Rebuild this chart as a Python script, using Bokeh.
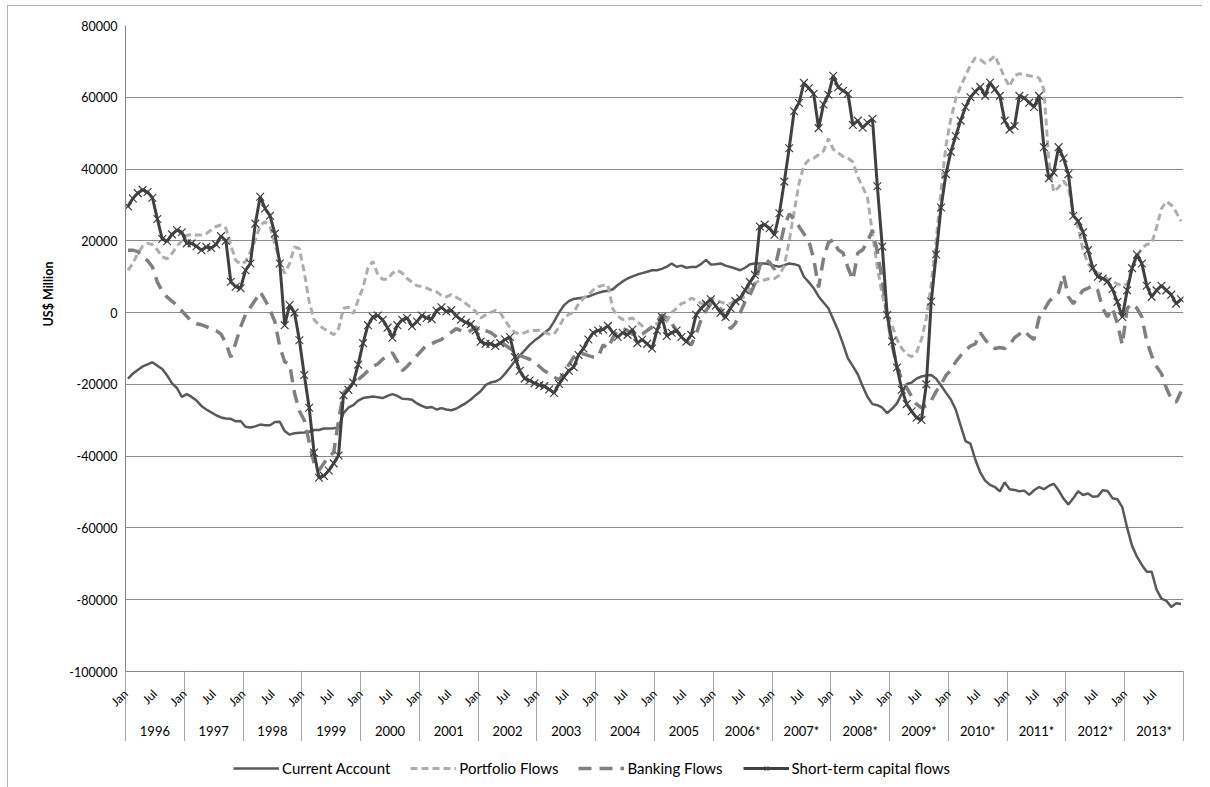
import math
from bokeh.plotting import figure
from bokeh.layouts import column
from bokeh.models import (FixedTicker, NumeralTickFormatter, LinearAxis, Legend,
                          LegendItem, Range1d, ColumnDataSource, Title)
from bokeh.embed import file_html
from bokeh.resources import INLINE

# ---------------- data (US$ million, monthly Jan 1996 - Dec 2013) ----------------
year_labels = ["1996", "1997", "1998", "1999", "2000", "2001", "2002", "2003", "2004",
               "2005", "2006*", "2007*", "2008*", "2009*", "2010*", "2011*", "2012*", "2013*"]
month_labels = ["Jan", "Jul"]
series_names = ["Current Account", "Portfolio Flows", "Banking Flows", "Short-term capital flows"]
y_title = "US$ Million"

current_account = [
    -18400, -17000, -16000, -15000, -14400, -13800, -14800, -15700, -17500, -19700, -21000, -23500,
    -22700, -23500, -24500, -26000, -27000, -27800, -28600, -29200, -29500, -29600, -30300, -30200,
    -31800, -32000, -31700, -31200, -31400, -31400, -30500, -30400, -33000, -34000, -33600, -33500,
    -33400, -33200, -32700, -32700, -32300, -32300, -32200, -32000, -28000, -26500, -25800, -24500,
    -23800, -23600, -23400, -23600, -23800, -23200, -22700, -23200, -24000, -24100, -24300, -25300,
    -26000, -26500, -26300, -27000, -26600, -27000, -27200, -26800, -26000, -25200, -24200, -23000,
    -21900, -20200, -19500, -19200, -18500, -17000, -15300, -13500, -12000, -10500, -9000, -7800,
    -6800, -5600, -4600, -2500, 0, 2000, 3200, 3800, 4000, 4200, 4500, 5000,
    5500, 5900, 6100, 6500, 7700, 8700, 9500, 10100, 10600, 11000, 11400, 11800,
    11800, 12200, 12800, 13700, 12800, 13100, 12500, 12700, 12700, 13500, 14700, 13400,
    13500, 13700, 13100, 12700, 12300, 11800, 12500, 13500, 13700, 13700, 13700, 13500,
    13100, 12800, 13200, 13700, 13500, 13100, 10000, 8500, 6800, 4500, 2800, 1200,
    -1900, -5000, -8800, -12800, -14900, -17200, -20500, -23500, -25500, -25800, -26500, -28000,
    -26800, -25300, -22500, -19900, -19500, -18400, -17800, -17500, -17400, -18400, -20300, -22300,
    -24200, -27000, -31500, -35800, -36500, -41000, -44500, -46800, -48000, -48600, -49800, -47300,
    -49200, -49400, -49800, -49600, -50800, -49500, -48600, -49200, -48300, -47700, -49500, -51800,
    -53500, -51700, -49800, -50800, -50400, -51300, -51200, -49500, -49700, -51700, -52000, -54200,
    -60000, -65000, -68000, -70300, -72200, -72200, -77200, -79700, -80300, -82000, -81000, -81200,
]

portfolio_flows = [
    11800, 13700, 16500, 18500, 19300, 19000, 17500, 15500, 15000, 16500, 18500, 20000,
    21500, 21800, 21600, 21600, 22000, 23000, 24000, 24400, 23500, 18800, 14600, 13500,
    14200, 17000, 20200, 24400, 25300, 24000, 19000, 14600, 10900, 13700, 18300, 17800,
    11200, 3000, -1900, -3500, -4500, -5200, -6200, -4500, 1200, 1500, -300, 3500,
    7000, 12500, 14300, 10600, 9300, 9300, 11000, 11800, 11000, 9500, 8500, 7500,
    7300, 6800, 6200, 5800, 4800, 4400, 5000, 4300, 3500, 2500, 1500, 300,
    -1500, -700, 0, 600, 0, -2200, -4200, -5500, -6000, -5600, -5000, -5000,
    -5000, -5500, -6000, -6000, -4000, -1500, -500, 0, 2500, 4000, 5000, 6300,
    7200, 7600, 7700, 1000, -1000, -1900, -1800, -1500, -2500, -3700, -4800, -4000,
    -3000, -2500, -2500, 0, 1200, 2500, 3000, 4000, 3500, 2500, 3000, 4000,
    3500, 3000, 2500, 2500, 3500, 4000, 4400, 7000, 8200, 9000, 9100, 9500,
    9500, 10400, 13000, 20000, 28000, 36000, 41000, 42500, 43000, 44000, 45000, 48500,
    45500, 44500, 43500, 43000, 42000, 37800, 35000, 32000, 22000, 12500, 5000, -1000,
    -3500, -7500, -10000, -11600, -12300, -11000, -7500, -1500, 8000, 20000, 34000, 46500,
    54000, 59500, 63000, 66000, 69000, 71000, 70500, 69500, 70300, 71600, 68500, 65400,
    63000, 66000, 66600, 66300, 66000, 65700, 65400, 62200, 42300, 33600, 34900, 36700,
    34900, 27400, 23700, 17400, 13700, 11800, 11000, 10600, 9300, 8700, 8000, 7500,
    8000, 12400, 15600, 18000, 19000, 19300, 23700, 29000, 31000, 30000, 28000, 25500,
]

banking_flows = [
    17400, 17400, 17000, 15600, 14500, 12700, 8500, 6000, 4300, 3200, 2000, 500,
    -1000, -2500, -3100, -3400, -3900, -4500, -5000, -6000, -8500, -12400, -8500, -4000,
    -500, 1500, 3500, 5800, 3500, 700, -2500, -9500, -13700, -14300, -22400, -27400,
    -30000, -36000, -42000, -44000, -42000, -40000, -39000, -30000, -22400, -21000, -19700, -18700,
    -17500, -16200, -15000, -14300, -13000, -12000, -11200, -13500, -16200, -15000, -13500, -12000,
    -10500, -9000, -8700, -8000, -7500, -6500, -5500, -4500, -5000, -5600, -5000, -4000,
    -5500, -5000, -5500, -6500, -8000, -9000, -10000, -11000, -12000, -12500, -13000, -13700,
    -15000, -16200, -17000, -18000, -18700, -17000, -14500, -12400, -11200, -11500, -12000, -12400,
    -12400, -9000, -10000, -7000, -5000, -4400, -5000, -6000, -6500, -6000, -5000, -4000,
    -2500, -600, -1500, -3000, -5000, -6500, -8000, -9000, -6000, -2000, 500, 2500,
    2000, 1000, -2000, -4500, -3000, 0, 3000, 5000, 8000, 13000, 15000, 14000,
    12000, 18000, 24000, 27500, 26000, 24000, 22000, 20000, 15000, 7000, 15000, 19500,
    20300, 17500, 16600, 12500, 9100, 16600, 17500, 19800, 23000, 17000, 9000, -1000,
    -9000, -15000, -18800, -21000, -23400, -25500, -26500, -26000, -24500, -22000, -20000, -17500,
    -16000, -13700, -12000, -10500, -9300, -8700, -5600, -7500, -9300, -10000, -9700, -10000,
    -9000, -7000, -6000, -5000, -6500, -7500, -1500, 600, 3000, 4400, 5600, 10600,
    4400, 2500, 4500, 6200, 6800, 7500, 6200, 1200, -1200, 1200, -3000, -9000,
    1200, 2500, 1200, -1200, -8000, -12000, -15000, -17000, -21000, -24000, -25000, -22000,
]

short_term_flows = [
    29600, 31800, 33300, 34200, 33600, 32000, 26100, 20500, 19900, 21800, 23000, 22400,
    19300, 19300, 18500, 17400, 18300, 18000, 19000, 21300, 20000, 8600, 7200, 6800,
    11800, 13700, 24800, 32300, 29000, 27000, 22000, 13700, -3500, 2100, 0, -7700,
    -17400, -26500, -39000, -46000, -45500, -44000, -42000, -39800, -23000, -21500, -19500, -14500,
    -8500, -3500, -1200, -800, -2000, -4200, -7000, -3500, -2000, -1500, -3800, -2500,
    -800, -1500, -1800, 500, 1500, 300, 700, -900, -2000, -2800, -3200, -5000,
    -8100, -8700, -8700, -9300, -8500, -7500, -6800, -12400, -16200, -18400, -18900, -19700,
    -20200, -20500, -21400, -22400, -19900, -18000, -16200, -15200, -11800, -10000, -7500, -5600,
    -5000, -4700, -3700, -5600, -6800, -5600, -6200, -4700, -8500, -7500, -8700, -10000,
    -5000, -1200, -6500, -5600, -5000, -6800, -8100, -6200, -600, 1200, 2500, 3700,
    1900, 0, -1200, 1200, 3200, 4000, 6300, 8500, 10500, 24000, 24500, 23500,
    21700, 27700, 36500, 45800, 56100, 58400, 64000, 62500, 61000, 51400, 58000, 60700,
    66000, 62800, 61800, 61000, 52300, 53500, 51500, 52900, 54000, 35200, 18400, -700,
    -8000, -15300, -21500, -25500, -27500, -29300, -29900, -20000, 3100, 16200, 29300, 38600,
    44800, 49200, 53500, 57300, 60000, 61600, 62900, 60400, 64100, 62200, 60400, 53500,
    51000, 52000, 60400, 59800, 58500, 57300, 60400, 46100, 37400, 39000, 46100, 43000,
    38600, 27000, 25500, 22400, 17400, 12400, 10000, 9500, 8700, 6500, 3000, -1200,
    6200, 12400, 16200, 13700, 7500, 4400, 6200, 7500, 6200, 5000, 2500, 3700,
]

n_months = len(current_account)
x = [i + 0.5 for i in range(n_months)]  # centre of each monthly category

source = ColumnDataSource(data=dict(x=x, ca=current_account, pf=portfolio_flows,
                                    bf=banking_flows, st=short_term_flows))

FONT = "Lato"
BORDER = "#b4b4b4"
STYLES = [
    dict(line_color="#595959", line_width=2.5),
    dict(line_color="#adadad", line_width=3, line_dash="7 4"),
    dict(line_color="#808080", line_width=3.5, line_dash="13 8"),
    dict(line_color="#404040", line_width=3),
]
MARKER = dict(marker="x", size=11, line_color="#404040", line_width=1.2)

p = figure(frame_width=1058, frame_height=646, output_backend="svg", toolbar_location=None,
           x_range=Range1d(0, n_months), y_range=Range1d(-100000, 80000),
           min_border_left=125, min_border_right=19, min_border_top=25, min_border_bottom=0,
           background_fill_color="white", border_fill_alpha=0)
p.outline_line_color = None
p.styles = {"box-shadow": f"inset 7px 5px 0 0 white, inset 8px 6px 0 0 {BORDER}"}

# ---------------- series ----------------
p.line("x", "ca", source=source, **STYLES[0])
p.line("x", "pf", source=source, **STYLES[1])
p.line("x", "bf", source=source, **STYLES[2])
p.line("x", "st", source=source, **STYLES[3])
p.scatter("x", "st", source=source, **MARKER)

# ---------------- y axis ----------------
ya = p.yaxis[0]
ya.ticker = FixedTicker(ticks=list(range(-100000, 80001, 20000)))
ya.formatter = NumeralTickFormatter(format="0")
ya.major_tick_out = 0
ya.major_tick_in = 0
ya.minor_tick_line_color = None
ya.axis_line_color = "#868686"
ya.major_label_standoff = 8
ya.major_label_text_font = FONT
ya.major_label_text_font_size = "12.5px"
ya.major_label_text_color = "#000000"

p.add_layout(Title(text=y_title, align="left", offset=345, standoff=22,
                   text_font=FONT, text_font_style="bold", text_font_size="12.5px",
                   text_color="#000000"), "left")

p.ygrid.grid_line_color = "#8a8a8a"
p.ygrid.grid_line_width = 1
p.xgrid.visible = False

# ---------------- x axis: months ----------------
month_ticks = list(range(0, n_months, 6))
year_bounds = list(range(0, n_months + 1, 12))
xa = p.xaxis[0]
xa.ticker = FixedTicker(ticks=month_ticks, minor_ticks=year_bounds)
xa.major_label_overrides = {t: month_labels[(t // 6) % 2] for t in month_ticks}
xa.major_label_orientation = math.pi / 4
xa.major_tick_out = 0
xa.major_tick_in = 0
xa.minor_tick_in = 0
xa.minor_tick_out = 75
xa.minor_tick_line_color = "#a6a6a6"
xa.axis_line_color = "#868686"
xa.major_label_standoff = -55
xa.major_label_text_font = FONT
xa.major_label_text_font_size = "12px"
xa.major_label_text_color = "#000000"

# ---------------- x axis: years ----------------
year_centres = [b + 6 for b in year_bounds[:-1]]
xb = LinearAxis(ticker=FixedTicker(ticks=year_centres, minor_ticks=[]),
                major_label_overrides={c: lab for c, lab in zip(year_centres, year_labels)})
xb.major_tick_line_color = None
xb.major_tick_out = 0
xb.major_tick_in = 0
xb.minor_tick_line_color = None
xb.minor_tick_out = 0
xb.minor_tick_in = 0
xb.axis_line_color = None
xb.major_label_standoff = 5
xb.major_label_text_font = FONT
xb.major_label_text_font_size = "13px"
xb.major_label_text_color = "#000000"
p.add_layout(xb, "below")

# ---------------- legend strip (separate figure under the chart) ----------------
leg = figure(width=1202, height=48, output_backend="svg", toolbar_location=None,
             x_axis_location=None, y_axis_location=None, min_border=0,
             x_range=Range1d(0, 1), y_range=Range1d(0, 1),
             background_fill_alpha=0, border_fill_alpha=0)
leg.outline_line_color = None
leg.grid.visible = False
leg.styles = {"box-shadow": f"inset 7px 0 0 0 white, inset 8px 0 0 0 {BORDER}"}
nan = float("nan")
empty = ColumnDataSource(data=dict(x=[nan], y=[nan]))
items = []
for name, st in zip(series_names, STYLES):
    rs = [leg.line("x", "y", source=empty, **st)]
    if name == series_names[-1]:
        rs.append(leg.scatter("x", "y", source=empty, **MARKER))
    items.append(LegendItem(label=name, renderers=rs))
legend = Legend(items=items, orientation="horizontal", location=(108, 12),
                border_line_color=None, background_fill_alpha=0, glyph_width=46,
                glyph_height=14, label_standoff=3, spacing=20, padding=2, margin=0,
                label_text_font=FONT, label_text_font_size="15px", label_height=18,
                label_text_color="#000000")
leg.add_layout(legend)

open("out.html", "w").write(file_html(column(p, leg, spacing=0), INLINE))
